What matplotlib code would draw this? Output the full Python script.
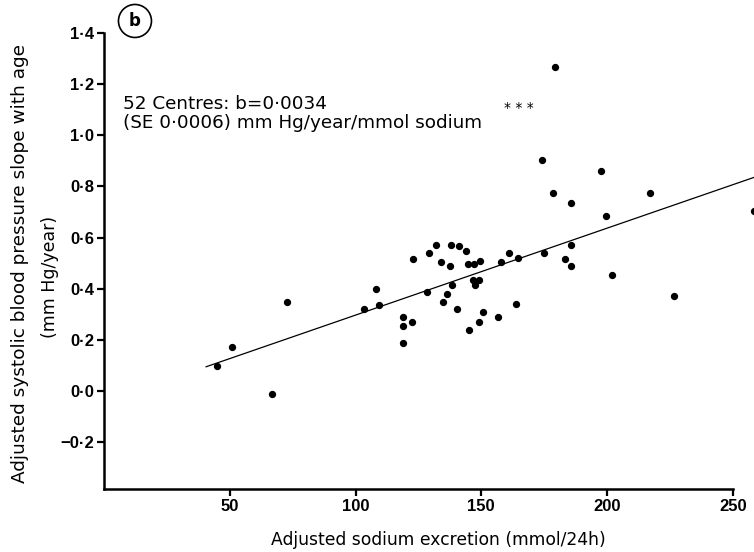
import matplotlib
matplotlib.use('Agg')

import matplotlib.pyplot as plt
import numpy as np

# centre-level values (52 centres)
sodium = [44.8, 51.0, 72.6, 66.8, 103.5, 108.2, 109.3,
          122.7, 129.1, 132.0, 134.0, 137.6, 138.1, 141.2, 143.9, 144.9,
          147.1, 149.5, 157.7, 161.2, 164.6, 175.0, 128.3, 138.4, 136.5,
          134.9, 140.5, 146.6, 149.1, 147.6, 150.6, 149.2, 145.0, 156.7,
          163.8, 119.0, 119.0, 122.5, 118.8,
          179.3, 174.3, 197.5, 178.7, 185.6, 217.0, 199.5, 258.4, 185.6,
          183.3, 185.7, 201.9, 226.5]
slope_age = [0.098, 0.171, 0.350, -0.013, 0.320, 0.399, 0.337,
             0.516, 0.538, 0.571, 0.506, 0.489, 0.571, 0.566, 0.549, 0.498,
             0.495, 0.509, 0.506, 0.540, 0.519, 0.538, 0.386, 0.416, 0.378,
             0.350, 0.322, 0.433, 0.433, 0.413, 0.309, 0.272, 0.239, 0.289,
             0.342, 0.289, 0.255, 0.272, 0.187,
             1.269, 0.903, 0.859, 0.775, 0.736, 0.774, 0.684, 0.703, 0.570,
             0.518, 0.488, 0.455, 0.373]

# regression line: intercept, slope b, and the sodium range it spans
intercept = -0.043
b = 0.0034
line_x = [40.6, 262]

yticks = [-0.2, 0.0, 0.2, 0.4, 0.6, 0.8, 1.0, 1.2, 1.4]
xticks = [50, 100, 150, 200, 250]

plt.rcParams['font.family'] = ['DejaVu Sans']

fig = plt.figure(figsize=(7.54, 5.52), dpi=100)
ax = fig.add_axes([0.1379, 0.1141, 0.874, 0.826])

lx = np.array(line_x)
ax.plot(lx, intercept + b * lx, color='black', lw=0.9, clip_on=False)
ax.scatter(sodium, slope_age, s=18, color='black', zorder=3, clip_on=False)

ax.set_xlim(0, 262)
ax.set_ylim(-0.383, 1.4)

for side in ['top', 'right']:
    ax.spines[side].set_visible(False)
ax.spines['left'].set_linewidth(1.8)
ax.spines['bottom'].set_linewidth(1.8)
ax.spines['bottom'].set_bounds(0, 250)

ax.set_yticks(yticks)
ax.set_yticklabels([('\u2212' if v < 0 else '') + f'{abs(v):.1f}'.replace('.', '\u00b7')
                    for v in yticks], fontsize=12, fontweight='bold',
                   family='Liberation Sans')
ax.set_xticks(xticks)
ax.set_xticklabels([str(v) for v in xticks], fontsize=12, fontweight='bold',
                   family='Liberation Sans')
ax.tick_params(axis='both', direction='out', length=5, width=1.6, pad=2)

fig.text(0.027, 0.523, 'Adjusted systolic blood pressure slope with age',
         rotation=90, ha='center', va='center', fontsize=13.3)
fig.text(0.066, 0.498, '(mm Hg/year)', rotation=90, ha='center',
         va='center', fontsize=12.5)
fig.text(0.581, 0.022, 'Adjusted sodium excretion (mmol/24h)',
         ha='center', va='center', fontsize=12.3)

fig.text(0.163, 0.828, '52 Centres: b=0\u00b70034\n(SE 0\u00b70006) mm Hg/year/mmol sodium',
         ha='left', va='top', fontsize=13.2, linespacing=1.05)
fig.text(0.688, 0.805, '* * *', ha='center', va='center', fontsize=10)

fig.text(0.179, 0.962, 'b', ha='center', va='center', fontsize=12, fontweight='bold',
         bbox=dict(boxstyle='circle,pad=0.45', fc='white', ec='black', lw=1.2))

plt.savefig('out.png', dpi=100)
plt.close()
